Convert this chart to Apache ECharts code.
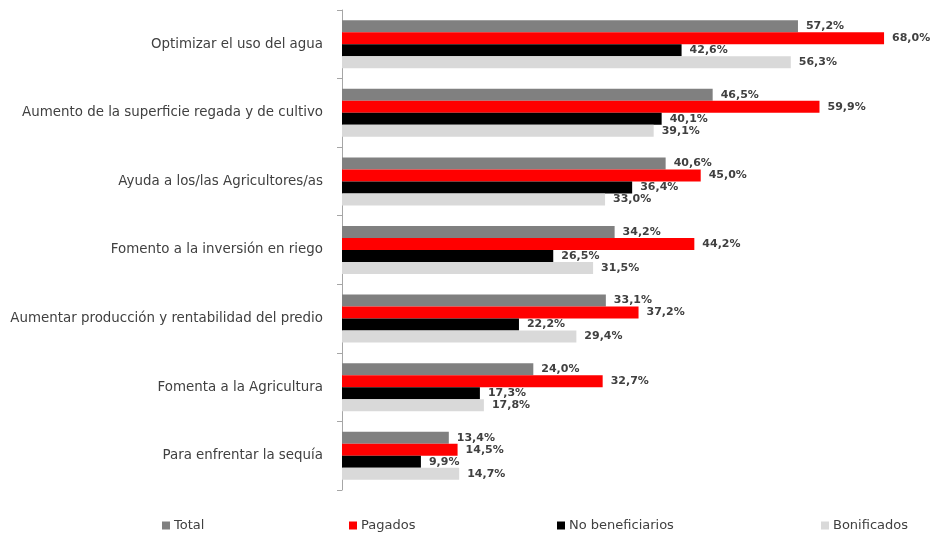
<!DOCTYPE html>
<html><head><meta charset="utf-8">
<script src="https://cdn.jsdelivr.net/npm/echarts@6/dist/echarts.min.js"></script>
<style>html,body{margin:0;padding:0;background:#fff}#c{width:931px;height:533px}</style>
</head><body><div id="c"></div>
<script>
const categories = [
  "Optimizar el uso del agua",
  "Aumento de la superficie regada y de cultivo",
  "Ayuda a los/las Agricultores/as",
  "Fomento a la inversión en riego",
  "Aumentar producción y rentabilidad del predio",
  "Fomenta a la Agricultura",
  "Para enfrentar la sequía"
];
const seriesNames = ["Total", "Pagados", "No beneficiarios", "Bonificados"];
const total = [57.2, 46.5, 40.6, 34.2, 33.1, 24.0, 13.4];
const pagados = [68.0, 59.9, 45.0, 44.2, 37.2, 32.7, 14.5];
const noBeneficiarios = [42.6, 40.1, 36.4, 26.5, 22.2, 17.3, 9.9];
const bonificados = [56.3, 39.1, 33.0, 31.5, 29.4, 17.8, 14.7];
const colors = ["#808080", "#FF0000", "#000000", "#D9D9D9"];
const values = [total, pagados, noBeneficiarios, bonificados];

const chart = echarts.init(document.getElementById('c'), null, {renderer: 'canvas'});
const legendLefts = [157, 344, 552, 816];
const option = {
  animation: false,
  grid: {left: 342, top: 10, width: 558, height: 480},
  xAxis: {type: 'value', min: 0, max: 70, show: false},
  yAxis: {
    type: 'category', data: categories, inverse: true,
    axisLine: {show: true, lineStyle: {color: '#A6A6A6', width: 1}},
    axisTick: {show: true, length: 5, lineStyle: {color: '#A6A6A6'}},
    axisLabel: {color: '#404040', fontFamily: 'DejaVu Sans', fontSize: 13.4, margin: 19}
  },
  legend: legendLefts.map((l, i) => ({
    data: [seriesNames[i]], left: l, top: 514, itemWidth: 8, itemHeight: 8,
    icon: 'rect', itemGap: 4,
    textStyle: {color: '#404040', fontFamily: 'DejaVu Sans', fontSize: 13, padding: [0,0,0,-1]}
  })),
  series: values.map((v, i) => ({
    name: seriesNames[i], type: 'bar', data: v, barWidth: 12, barGap: '0%',
    itemStyle: {color: colors[i]},
    label: {
      show: true, position: 'right', distance: 8,
      color: '#404040', fontFamily: 'DejaVu Sans', fontWeight: 'bold', fontSize: 11,
      formatter: p => p.value.toFixed(1).replace('.', ',') + '%'
    }
  }))
};
chart.setOption(option);
</script></body></html>
